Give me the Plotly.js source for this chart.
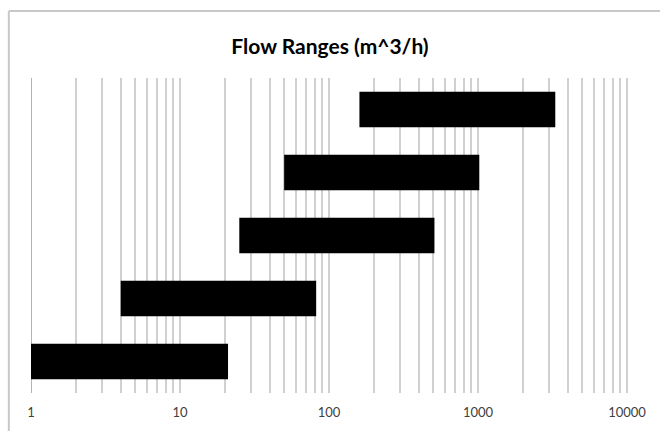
<!DOCTYPE html>
<html>
<head>
<meta charset="utf-8">
<script src="https://cdn.plot.ly/plotly-3.0.1.min.js"></script>
<style>html,body{margin:0;padding:0;background:#fff;}#chart{width:660px;height:431px;}</style>
</head>
<body>
<div id="chart"></div>
<script>
var categories = ['Range 1', 'Range 2', 'Range 3', 'Range 4', 'Range 5'];
var rangeStart = [1, 4, 25, 50, 160];
var rangeEnd = [21, 82, 510, 1020, 3300];
var tickValues = [1, 10, 100, 1000, 10000];
var tickLabels = ['1', '10', '100', '1000', '10000'];

var widths = rangeEnd.map(function (e, i) { return e - rangeStart[i]; });

var trace = {
  type: 'bar',
  orientation: 'h',
  y: categories,
  x: widths,
  base: rangeStart,
  width: 0.56,
  marker: { color: '#000000', line: { color: '#000000', width: 0 } },
  hoverinfo: 'skip'
};

var layout = {
  width: 660,
  height: 431,
  margin: { l: 31, r: 30, t: 78, b: 38 },
  paper_bgcolor: '#ffffff',
  plot_bgcolor: '#ffffff',
  showlegend: false,
  title: {
    text: '<b>Flow Ranges (m^3/h)</b>',
    font: { family: 'Lato, "Open Sans", sans-serif', size: 21, color: '#000000' },
    x: 0.5, xanchor: 'center',
    y: 1 - 47 / 431, yanchor: 'middle', yref: 'container'
  },
  xaxis: {
    type: 'log',
    range: [0, 4.02],
    tickvals: tickValues,
    ticktext: tickLabels,
    showgrid: true,
    gridcolor: '#d0d0d0',
    gridwidth: 2,
    minor: { dtick: 'D1', showgrid: true, gridcolor: '#d0d0d0', gridwidth: 2 },
    zeroline: false,
    showline: false,
    ticks: '',
    ticklabelstandoff: 10,
    tickfont: { family: 'Lato, "Open Sans", sans-serif', size: 13, color: '#404040' },
    fixedrange: true
  },
  yaxis: {
    type: 'category',
    categoryorder: 'array',
    categoryarray: categories,
    range: [-0.5, 4.5],
    showticklabels: false,
    showgrid: false,
    zeroline: false,
    showline: false,
    ticks: '',
    fixedrange: true
  },
  shapes: [
    { type: 'line', xref: 'paper', yref: 'paper', x0: -0.037, x1: -0.037, y0: -0.2, y1: 1.2127,
      line: { color: '#c8c8c8', width: 2 } },
    { type: 'line', xref: 'paper', yref: 'paper', x0: -0.037, x1: 1.1, y0: 1.2127, y1: 1.2127,
      line: { color: '#c8c8c8', width: 2 } },
    { type: 'line', xref: 'x', yref: 'paper', x0: 1, x1: 1, y0: 0, y1: 1,
      line: { color: '#b4b4b4', width: 2 }, layer: 'below' }
  ]
};

Plotly.newPlot('chart', [trace], layout, { displayModeBar: false, staticPlot: true });
</script>
</body>
</html>
